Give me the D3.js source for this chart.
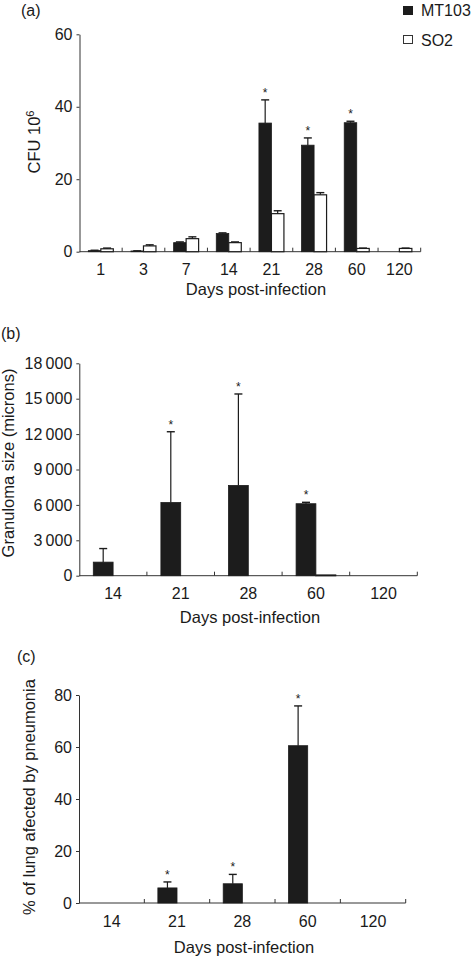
<!DOCTYPE html>
<html><head><meta charset="utf-8">
<script src="https://cdn.jsdelivr.net/npm/d3@7"></script>
<style>
body{margin:0;background:#fff;}
text{font-family:"Liberation Sans",Arial,Helvetica,sans-serif;fill:#1a1a1a;}
</style></head>
<body><svg id="c" width="473" height="957"></svg>
<script>
// ---------- data ----------
const seriesNames = ["MT103", "SO2"];

// panel (a): CFU 10^6
const daysA = ["1","3","7","14","21","28","60","120"];
const mt103A = [0.3, 0.2, 2.5, 5.0, 35.5, 29.4, 35.6, 0];
const mt103AErr = [0.1, 0.05, 0.2, 0.2, 6.4, 2.0, 0.4, 0];
const so2A = [0.8, 1.6, 3.6, 2.5, 10.5, 15.7, 0.9, 0.9];
const so2AErr = [0.2, 0.3, 0.5, 0.2, 0.8, 0.6, 0.1, 0.1];
const sigA = [0,0,0,0,1,1,1,0];
const yTicksA = [0, 20, 40, 60];

// panel (b): granuloma size (microns)
const daysB = ["14","21","28","60","120"];
const mt103B = [1150, 6200, 7650, 6100, 0];
const mt103BErr = [1150, 6000, 7750, 120, 0];
const so2B = [0, 0, 0, 60, 0];
const so2BErr = [0, 0, 0, 0, 0];
const sigB = [0,1,1,1,0];
const yTicksB = [0, 3000, 6000, 9000, 12000, 15000, 18000];
const yTickLabelsB = ["0","3\u2009000","6\u2009000","9\u2009000","12\u2009000","15\u2009000","18\u2009000"];

// panel (c): % of lung affected by pneumonia
const daysC = ["14","21","28","60","120"];
const mt103C = [0, 5.8, 7.4, 60.5, 0];
const mt103CErr = [0, 2.3, 3.6, 15.3, 0];
const so2C = [0, 0, 0, 0, 0];
const so2CErr = [0, 0, 0, 0, 0];
const sigC = [0,1,1,1,0];
const yTicksC = [0, 20, 40, 60, 80];

// ---------- drawing ----------
const svg = d3.select("#c");
const AX = "#333";
const FS = "16px", TFS = "16.5px";

function panel(o) {
  const g = svg.append("g");
  const x = d3.scaleBand().domain(o.cats).range([o.x0, o.x1]).paddingInner(0).paddingOuter(0);
  const y = d3.scaleLinear().domain(o.yDomain).range([o.yBottom, o.yTop]);
  const bw = x.bandwidth() * 0.293;
  const data = o.cats.map((c, i) => ({c, m: o.m[i], me: o.me[i], s: o.s[i], se: o.se[i], sig: o.sig[i]}));

  // y axis
  const ya = d3.axisLeft(y).tickValues(o.yTicks).tickSizeInner(3).tickSizeOuter(0).tickPadding(4)
    .tickFormat((d, i) => o.yLabels ? o.yLabels[i] : d);
  const yg = g.append("g").attr("transform", `translate(${o.x0},0)`).call(ya);
  yg.attr("font-family", null).attr("font-size", null);
  yg.select(".domain").attr("stroke", AX);
  yg.selectAll(".tick line").attr("stroke", AX);
  yg.selectAll("text").style("font-size", FS).attr("fill", "#1a1a1a");

  // x axis line
  g.append("line").attr("x1", o.x0).attr("x2", o.x1).attr("y1", y(0)).attr("y2", y(0)).attr("stroke", AX);
  // boundary ticks (inward)
  g.selectAll(".bt").data(o.cats).enter().append("line")
    .attr("x1", d => x(d) + x.bandwidth()).attr("x2", d => x(d) + x.bandwidth())
    .attr("y1", y(0)).attr("y2", y(0) - 4).attr("stroke", AX);
  // x labels
  g.selectAll(".xl").data(o.cats).enter().append("text")
    .attr("x", d => x(d) + x.bandwidth() / 2).attr("y", y(0) + 23.5)
    .attr("text-anchor", "middle").style("font-size", FS).text(d => d);
  // x title
  g.append("text").attr("x", o.xTitleX).attr("y", o.xTitleY).attr("text-anchor", "middle")
    .style("font-size", TFS).text("Days post-infection");
  // y title
  const yt = g.append("text").attr("transform", `translate(${o.yTitleX},${o.yTitleY}) rotate(-90)`)
    .attr("text-anchor", "middle").style("font-size", TFS);
  if (o.cfu) {
    yt.append("tspan").text("CFU 10");
    yt.append("tspan").attr("dy", -6).style("font-size", "11px").text("6");
  } else yt.text(o.yTitle);
  // panel letter
  g.append("text").attr("x", o.lx).attr("y", o.ly).style("font-size", FS).text(o.letter);

  // bars
  const cx = d => x(d.c) + x.bandwidth() / 2;
  g.selectAll(".bm").data(data).enter().append("rect")
    .attr("x", d => cx(d) - bw).attr("width", bw)
    .attr("y", d => y(d.m)).attr("height", d => y(0) - y(d.m))
    .attr("fill", "#1c1c1c").attr("stroke", "#1c1c1c").attr("stroke-width", 0.8);
  g.selectAll(".bs").data(data).enter().append("rect")
    .attr("x", d => cx(d)).attr("width", bw)
    .attr("y", d => y(d.s)).attr("height", d => y(0) - y(d.s))
    .attr("fill", "#fff").attr("stroke", "#1c1c1c").attr("stroke-width", 1.2);

  // error bars
  function err(key, ekey, off) {
    const dd = data.filter(d => d[ekey] > 0);
    g.selectAll(null).data(dd).enter().append("line")
      .attr("x1", d => cx(d) + off).attr("x2", d => cx(d) + off)
      .attr("y1", d => y(d[key])).attr("y2", d => y(d[key] + d[ekey]))
      .attr("stroke", "#1c1c1c").attr("stroke-width", 1.2);
    g.selectAll(null).data(dd).enter().append("line")
      .attr("x1", d => cx(d) + off - 4).attr("x2", d => cx(d) + off + 4)
      .attr("y1", d => y(d[key] + d[ekey])).attr("y2", d => y(d[key] + d[ekey]))
      .attr("stroke", "#1c1c1c").attr("stroke-width", 1.4);
  }
  err("m", "me", -bw / 2);
  err("s", "se", bw / 2);

  // significance stars
  g.selectAll(".st").data(data.filter(d => d.sig)).enter().append("text")
    .attr("x", d => cx(d) - bw / 2).attr("y", d => y(d.m + d.me) - 3)
    .attr("text-anchor", "middle").style("font-size", "12px").style("fill", "#1a1a1a").text("*");
}

panel({cats: daysA, m: mt103A, me: mt103AErr, s: so2A, se: so2AErr, sig: sigA,
  x0: 79.5, x1: 420.7, yDomain: [0, 60], yBottom: 251.7, yTop: 34.3, yTicks: yTicksA,
  xTitleX: 256, xTitleY: 295, yTitleX: 40, yTitleY: 142, cfu: true,
  letter: "(a)", lx: 21, ly: 15.5});

panel({cats: daysB, m: mt103B, me: mt103BErr, s: so2B, se: so2BErr, sig: sigB,
  x0: 79.3, x1: 417.3, yDomain: [0, 18000], yBottom: 575.7, yTop: 363.3, yTicks: yTicksB,
  yLabels: yTickLabelsB,
  xTitleX: 250, xTitleY: 623, yTitleX: 14, yTitleY: 463, yTitle: "Granuloma size (microns)",
  letter: "(b)", lx: 1, ly: 339});

panel({cats: daysC, m: mt103C, me: mt103CErr, s: so2C, se: so2CErr, sig: sigC,
  x0: 79, x1: 405.7, yDomain: [0, 80], yBottom: 903, yTop: 695, yTicks: yTicksC,
  xTitleX: 244, xTitleY: 953, yTitleX: 34.5, yTitleY: 797, yTitle: "% of lung afected by pneumonia",
  letter: "(c)", lx: 17, ly: 662});

// legend
const leg = svg.append("g");
leg.append("rect").attr("x", 403).attr("y", 6).attr("width", 10).attr("height", 9).attr("fill", "#1c1c1c");
leg.append("rect").attr("x", 403.5).attr("y", 35.5).attr("width", 9).attr("height", 8).attr("fill", "#fff").attr("stroke", "#333");
leg.selectAll(".lt").data(seriesNames).enter().append("text")
  .attr("x", 421).attr("y", (d, i) => 15.5 + i * 30).style("font-size", FS).text(d => d);
</script></body></html>
